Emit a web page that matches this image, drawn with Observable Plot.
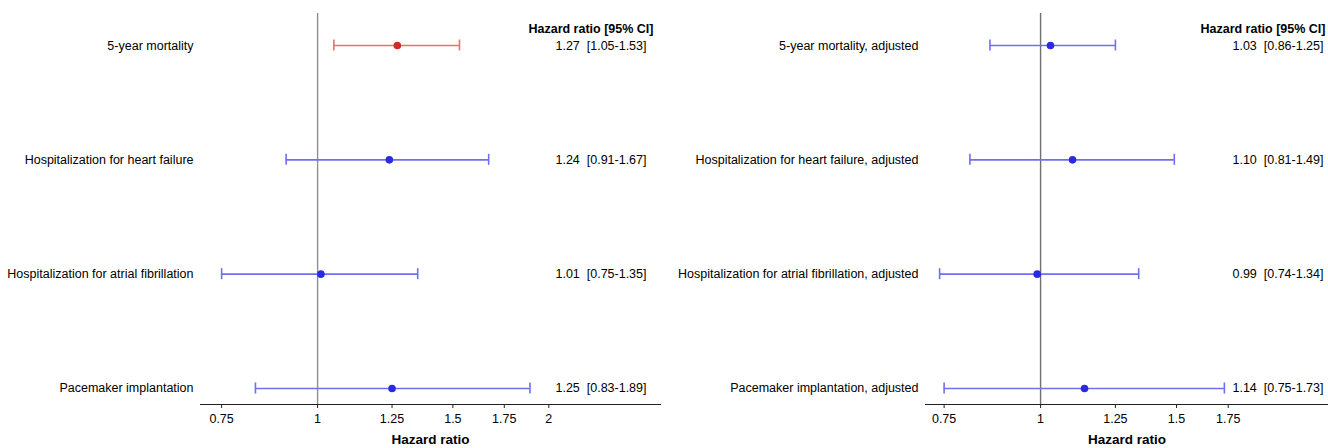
<!DOCTYPE html>
<html>
<head>
<meta charset="utf-8">
<script src="https://cdn.jsdelivr.net/npm/d3@7"></script>
<script src="https://cdn.jsdelivr.net/npm/@observablehq/plot@0.6"></script>
<style>
  html, body { margin: 0; padding: 0; background: #fff; }
  #wrap { display: flex; width: 1328px; height: 448px; }
  svg { font-family: "Liberation Sans", Arial, sans-serif; }
</style>
</head>
<body>
<div id="wrap"></div>
<script>
// ---- data ----
const leftLabels = ["5-year mortality", "Hospitalization for heart failure", "Hospitalization for atrial fibrillation", "Pacemaker implantation"];
const leftHR = [1.27, 1.24, 1.01, 1.25];
const leftLo = [1.05, 0.91, 0.75, 0.83];
const leftHi = [1.53, 1.67, 1.35, 1.89];
const leftSig = [true, false, false, false];

const rightLabels = ["5-year mortality, adjusted", "Hospitalization for heart failure, adjusted", "Hospitalization for atrial fibrillation, adjusted", "Pacemaker implantation, adjusted"];
const rightHR = [1.03, 1.10, 0.99, 1.14];
const rightLo = [0.86, 0.81, 0.74, 0.75];
const rightHi = [1.25, 1.49, 1.34, 1.73];
const rightSig = [false, false, false, false];

const leftTicks = [0.75, 1, 1.25, 1.5, 1.75, 2];
const rightTicks = [0.75, 1, 1.25, 1.5, 1.75];
const headerText = "Hazard ratio [95% CI]";
const axisTitle = "Hazard ratio";

const fmt2 = d3.format(".2f");

function rows(labels, hr, lo, hi, sig) {
  return labels.map((label, i) => ({
    row: i, label, hr: hr[i], lo: lo[i], hi: hi[i], sig: sig[i],
    txt: `${fmt2(hr[i])}  [${fmt2(lo[i])}-${fmt2(hi[i])}]`
  }));
}

function forest({data, ticks, xDomain, marginLeft, marginRight, valueDx, headerDx, refColor}) {
  const lineColor = d => d.sig ? "#e5746c" : "#6f6ff2";
  const dotColor = d => d.sig ? "#d42a24" : "#2a2ae0";
  return Plot.plot({
    width: 664,
    height: 448,
    marginLeft,
    marginRight,
    marginTop: 13,
    marginBottom: 44,
    style: {fontSize: "12.5px", fontFamily: "'Liberation Sans', Arial, sans-serif", color: "#000", background: "#fff"},
    x: {type: "log", domain: xDomain, ticks, tickFormat: d => String(d)},
    y: {domain: [-0.28, 3.14], reverse: true, axis: null},
    marks: [
      Plot.ruleX([1], {stroke: refColor, strokeWidth: 1.4}),
      Plot.frame({anchor: "bottom", stroke: "#222"}),
      Plot.axisX({ticks, tickFormat: d => String(d), tickSize: 4, tickPadding: 6, label: null, stroke: "#222", fontSize: 12.5}),
      Plot.text([axisTitle], {frameAnchor: "bottom", dy: 39, fontWeight: "bold", fontSize: 13.5}),
      Plot.ruleY(data, {x1: "lo", x2: "hi", y: "row", stroke: lineColor, strokeWidth: 1.6}),
      Plot.ruleX(data, {x: "lo", y1: "row", y2: "row", insetTop: -5.5, insetBottom: -5.5, stroke: lineColor, strokeWidth: 1.6}),
      Plot.ruleX(data, {x: "hi", y1: "row", y2: "row", insetTop: -5.5, insetBottom: -5.5, stroke: lineColor, strokeWidth: 1.6}),
      Plot.dot(data, {x: "hr", y: "row", r: 3.8, fill: dotColor, stroke: "none"}),
      Plot.text(data, {text: "label", y: "row", frameAnchor: "left", dx: -7, textAnchor: "end", fontSize: 12.5}),
      Plot.text(data, {text: "txt", y: "row", frameAnchor: "right", dx: valueDx, textAnchor: "end", fontSize: 12.5}),
      Plot.text([headerText], {frameAnchor: "top-right", dx: headerDx, dy: 11, textAnchor: "end", fontWeight: "bold", fontSize: 12.5})
    ]
  });
}

const wrap = document.getElementById("wrap");
wrap.append(forest({
  data: rows(leftLabels, leftHR, leftLo, leftHi, leftSig),
  ticks: leftTicks, xDomain: [0.704, 2.795], marginLeft: 200, marginRight: 4,
  valueDx: -14, headerDx: -7, refColor: "#8f8f8f"
}));
wrap.append(forest({
  data: rows(rightLabels, rightHR, rightLo, rightHi, rightSig),
  ticks: rightTicks, xDomain: [0.7095, 2.36], marginLeft: 261, marginRight: 0,
  valueDx: -5, headerDx: -3, refColor: "#707070"
}));
</script>
</body>
</html>
